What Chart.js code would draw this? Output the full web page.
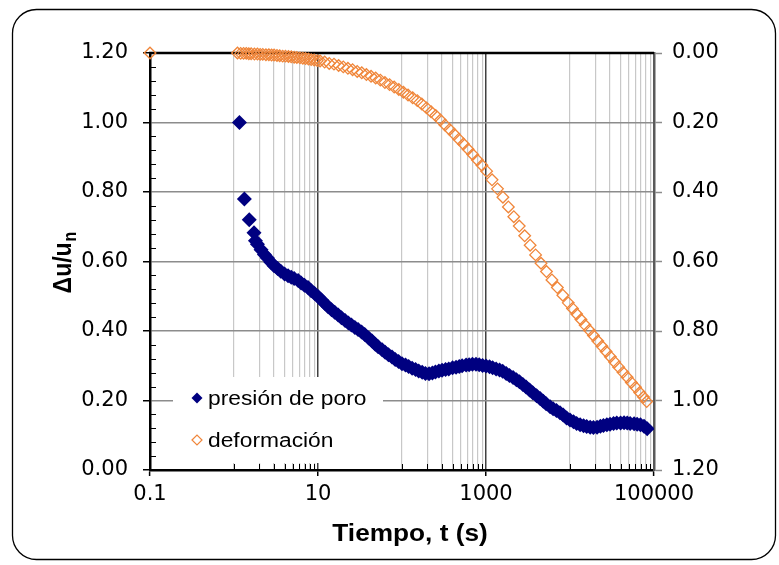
<!DOCTYPE html>
<html><head><meta charset="utf-8">
<script src="https://cdn.jsdelivr.net/npm/chart.js@4.4.1/dist/chart.umd.min.js"></script>
<style>
html,body{margin:0;padding:0;background:#fff;}
canvas{display:block;}
</style></head><body>
<canvas id="c" width="779" height="565"></canvas>
<script>
// ---- data ----
const timePressure = [1.16,1.33,1.52,1.73,1.8,1.9,2.1,2.3,2.5,2.75,3.0,3.3,3.6,4.0,4.4,4.8,5.2,5.8,6.3,6.9,7.6,8.3,9.1,
  10,11,12,13.2,14.5,15.8,17.4,19,21,23,25,27.5,30,33,36,40,44,48,52,58,63,69,76,83,91,
  100,110,120,132,145,158,174,190,210,230,250,275,300,330,360,400,440,480,520,580,630,690,760,830,910,
  1000,1100,1200,1320,1450,1580,1740,1900,2100,2300,2500,2750,3000,3300,3600,4000,4400,4800,5200,5800,6300,6900,7600,8300,9100,
  10000,11000,12000,13200,14500,15800,17400,19000,21000,23000,25000,27500,30000,33000,36000,40000,44000,48000,52000,58000,63000,69000,76000,83000];
const pressure = [1.00,0.78,0.72,0.683,0.660,0.650,0.634,0.620,0.610,0.598,0.588,0.580,0.572,0.564,0.559,0.555,0.551,0.545,0.538,0.532,0.525,0.516,0.508,
  0.499,0.489,0.480,0.470,0.461,0.454,0.446,0.438,0.430,0.423,0.417,0.410,0.404,0.397,0.390,0.380,0.371,0.362,0.355,0.346,0.339,0.332,0.325,0.318,0.312,
  0.306,0.302,0.298,0.293,0.289,0.285,0.281,0.278,0.277,0.279,0.282,0.285,0.287,0.289,0.291,0.294,0.296,0.298,0.300,0.302,0.303,0.304,0.304,0.303,0.301,
  0.299,0.297,0.294,0.291,0.288,0.284,0.278,0.272,0.266,0.260,0.254,0.246,0.239,0.230,0.222,0.214,0.206,0.198,0.191,0.182,0.176,0.171,0.165,0.158,0.150,
  0.144,0.139,0.134,0.130,0.127,0.125,0.123,0.122,0.123,0.126,0.128,0.130,0.132,0.134,0.135,0.135,0.136,0.135,0.134,0.133,0.132,0.130,0.126,0.119];

const timeDeformation = [0.1,1.1,1.2,1.3,1.4,1.5,1.6,1.75,1.9,2.05,2.2,2.4,2.6,2.8,3.0,3.25,3.5,3.8,4.1,4.45,4.8,5.2,5.6,6.1,6.6,7.1,7.7,8.3,9.0,9.8,
  10.6,12,13.6,15.5,17.6,20,22.7,25.8,29.3,33.2,37.7,42.8,48.6,55.2,62.6,71.1,80.7,91.6,104,
  118,134,152,172,196,222,252,286,325,369,419,475,539,612,695,789,895,1016,
  1180,1370,1590,1846,2143,2488,2888,3353,3893,4520,5248,6093,7074,8213,9535,
  10700,12000,13500,15100,17000,19000,21400,24000,26900,30200,33900,38000,42700,47900,53700,60300,67600,75000,81800];
const deformation = [0,0.000,0.001,0.001,0.001,0.002,0.002,0.003,0.003,0.004,0.004,0.005,0.005,0.006,0.006,0.007,0.008,0.009,0.009,0.010,0.011,0.012,0.013,0.014,0.015,0.016,0.017,0.019,0.020,0.022,
  0.023,0.026,0.030,0.032,0.036,0.040,0.044,0.048,0.053,0.057,0.062,0.067,0.072,0.078,0.085,0.091,0.098,0.105,0.113,
  0.121,0.129,0.137,0.147,0.158,0.169,0.180,0.193,0.207,0.220,0.234,0.248,0.262,0.277,0.292,0.308,0.323,0.340,
  0.365,0.391,0.415,0.443,0.471,0.498,0.526,0.553,0.581,0.605,0.629,0.653,0.675,0.697,0.719,
  0.735,0.751,0.767,0.783,0.798,0.813,0.829,0.844,0.859,0.874,0.889,0.904,0.919,0.933,0.948,0.962,0.977,0.990,1.003];

const seriesNames = ['presión de poro', 'deformación'];
const xMajorTicks = [0.1, 10, 1000, 100000];
const xTickLabels = ['0.1', '10', '1000', '100000'];
const xDarkGrid = [10, 1000];
const xMinorTicks = [1,2,3,4,5,6,7,8,9, 100,200,300,400,500,600,700,800,900, 10000,20000,30000,40000,50000,60000,70000,80000,90000];
const yTicks = [0, 0.2, 0.4, 0.6, 0.8, 1.0, 1.2];
const yMinorTicks = [0.04,0.08,0.12,0.16,0.24,0.28,0.32,0.36,0.44,0.48,0.52,0.56,0.64,0.68,0.72,0.76,0.84,0.88,0.92,0.96,1.04,1.08,1.12,1.16];
const titles = {x: 'Tiempo, t (s)', yMain: 'Δu/u', ySub: 'n', y2Main: 'ΔV/V', y2Sub: 'n'};

const NAVY = '#000080', ORANGE = '#F0863A';
const SX = 1.14;

function sText(ctx, txt, x, y, font, align) {
  ctx.save(); ctx.translate(x, y); ctx.scale(SX, 1);
  ctx.font = font; ctx.textAlign = align || 'left'; ctx.textBaseline = 'alphabetic';
  ctx.fillText(txt, 0, 0); ctx.restore();
}
function diamond(ctx, x, y, r) {
  ctx.beginPath(); ctx.moveTo(x - r, y); ctx.lineTo(x, y - r); ctx.lineTo(x + r, y); ctx.lineTo(x, y + r); ctx.closePath();
}
function rotTitle(ctx, main, sub, cx, cy, base) {
  ctx.save(); ctx.translate(cx, cy); ctx.rotate(-Math.PI / 2); ctx.scale(1, SX);
  ctx.fillStyle = '#000';
  ctx.font = 'bold 23px "Liberation Sans", Arial, sans-serif';
  const w1 = ctx.measureText(main).width;
  ctx.font = 'bold 16px "Liberation Sans", Arial, sans-serif';
  const w2 = ctx.measureText(sub).width;
  const start = -(w1 + w2) / 2;
  ctx.textBaseline = 'alphabetic'; ctx.textAlign = 'left';
  ctx.font = 'bold 23px "Liberation Sans", Arial, sans-serif';
  ctx.fillText(main, start, base);
  ctx.font = 'bold 16px "Liberation Sans", Arial, sans-serif';
  ctx.fillText(sub, start + w1 + 1, base + 5);
  ctx.restore();
}

const decor = {
  id: 'decor',
  beforeDraw(chart) {
    const ctx = chart.ctx; ctx.save(); ctx.fillStyle = '#fff'; ctx.fillRect(0, 0, chart.width, chart.height); ctx.restore();
  },
  beforeDatasetsDraw(chart) {
    const {ctx, chartArea: a, scales} = chart;
    ctx.save();
    ctx.strokeStyle = '#000'; ctx.lineWidth = 2.5;
    ctx.beginPath(); ctx.moveTo(a.left - 1, a.top); ctx.lineTo(a.right, a.top); ctx.stroke();
    ctx.lineWidth = 1; ctx.beginPath();
    xMinorTicks.forEach(v => { const px = Math.round(scales.x.getPixelForValue(v)) + 0.5; ctx.moveTo(px, a.bottom); ctx.lineTo(px, a.bottom - 6); });
    yMinorTicks.forEach(v => { const py = Math.round(scales.y.getPixelForValue(v)) + 0.5; ctx.moveTo(a.left, py); ctx.lineTo(a.left + 6, py); });
    ctx.stroke();
    // legend
    ctx.fillStyle = '#fff'; ctx.fillRect(173, 377, 210, 86);
    ctx.fillStyle = NAVY; diamond(ctx, 197, 398, 5.5); ctx.fill();
    ctx.strokeStyle = ORANGE; ctx.lineWidth = 1.2; diamond(ctx, 197, 440, 5); ctx.stroke();
    ctx.fillStyle = '#000';
    sText(ctx, seriesNames[0], 208, 405, '20px "Liberation Sans", Arial, sans-serif');
    sText(ctx, seriesNames[1], 208, 447, '20px "Liberation Sans", Arial, sans-serif');
    ctx.restore();
  },
  afterDraw(chart) {
    const {ctx} = chart;
    ctx.save();
    ctx.fillStyle = '#000';
    sText(ctx, titles.x, 410, 541, 'bold 23px "Liberation Sans", Arial, sans-serif', 'center');
    rotTitle(ctx, titles.yMain, titles.ySub, 0, 263, 62);
    rotTitle(ctx, titles.y2Main, titles.y2Sub, 0, 263, 766);
    ctx.strokeStyle = '#000'; ctx.lineWidth = 1.3;
    ctx.beginPath(); ctx.roundRect(12.5, 9.5, 763, 550, 24); ctx.stroke();
    ctx.restore();
  }
};

const tickFont = {family: '"DejaVu Sans", sans-serif', size: 21};

new Chart(document.getElementById('c'), {
  type: 'scatter',
  data: {
    datasets: [
      {
        label: seriesNames[0],
        data: timePressure.map((t, i) => ({x: t, y: pressure[i]})),
        yAxisID: 'y',
        pointStyle: 'rectRot', pointRadius: 7.5, pointBorderWidth: 0,
        backgroundColor: NAVY, borderColor: NAVY
      },
      {
        label: seriesNames[1],
        data: timeDeformation.map((t, i) => ({x: t, y: deformation[i]})),
        yAxisID: 'y2',
        pointStyle: 'rectRot', pointRadius: 5.8, pointBorderWidth: 1.3,
        backgroundColor: 'rgba(255,255,255,0)', borderColor: ORANGE,
        clip: false
      }
    ]
  },
  options: {
    responsive: false, animation: false, events: [],
    layout: {padding: {top: 53, left: 0, right: 0, bottom: 0}},
    plugins: {legend: {display: false}, tooltip: {enabled: false}},
    scales: {
      x: {
        type: 'logarithmic', position: 'bottom', min: 0.1, max: 100000,
        afterBuildTicks: s => { s.ticks = xMajorTicks.concat(xMinorTicks).sort((p, q) => p - q).map(v => ({value: v})); },
        afterFit: s => { s.height = 95; },
        ticks: {
          autoSkip: false, maxRotation: 0, minRotation: 0, color: '#000', font: tickFont, padding: 6,
          callback: v => { const k = xMajorTicks.indexOf(v); return k >= 0 ? xTickLabels[k] : ''; }
        },
        grid: {
          color: c => { const v = c.tick && c.tick.value; if (v === 0.1 || v === 100000) return 'rgba(0,0,0,0)'; return xDarkGrid.includes(v) ? '#404040' : '#C8C8C8'; },
          lineWidth: c => xDarkGrid.includes(c.tick && c.tick.value) ? 1.5 : 1.2,
          tickColor: c => xMajorTicks.includes(c.tick && c.tick.value) ? '#000' : 'rgba(0,0,0,0)',
          tickWidth: 1.5, tickLength: 6
        },
        border: {color: '#000', width: 2.5}
      },
      y: {
        position: 'left', min: 0, max: 1.2,
        afterBuildTicks: s => { s.ticks = yTicks.map(v => ({value: v})); },
        afterFit: s => { s.width = 150; },
        ticks: {color: '#000', font: tickFont, padding: 15, callback: v => Number(v).toFixed(2)},
        grid: {
          color: c => { const v = c.tick && c.tick.value; return (v === 0 || v === 1.2) ? 'rgba(0,0,0,0)' : '#8C8C8C'; },
          lineWidth: 1.5, tickColor: '#000', tickWidth: 1.5, tickLength: 7
        },
        border: {color: '#000', width: 2.5}
      },
      y2: {
        position: 'right', reverse: true, min: 0, max: 1.2,
        afterBuildTicks: s => { s.ticks = yTicks.map(v => ({value: v})); },
        afterFit: s => { s.width = 125; },
        ticks: {color: '#000', font: tickFont, padding: 10, callback: v => Number(v).toFixed(2)},
        grid: {drawOnChartArea: false, tickColor: '#8C8C8C', tickWidth: 1.5, tickLength: 8},
        border: {color: '#5A5A5A', width: 2.5}
      }
    }
  },
  plugins: [decor]
});
</script>
</body></html>
